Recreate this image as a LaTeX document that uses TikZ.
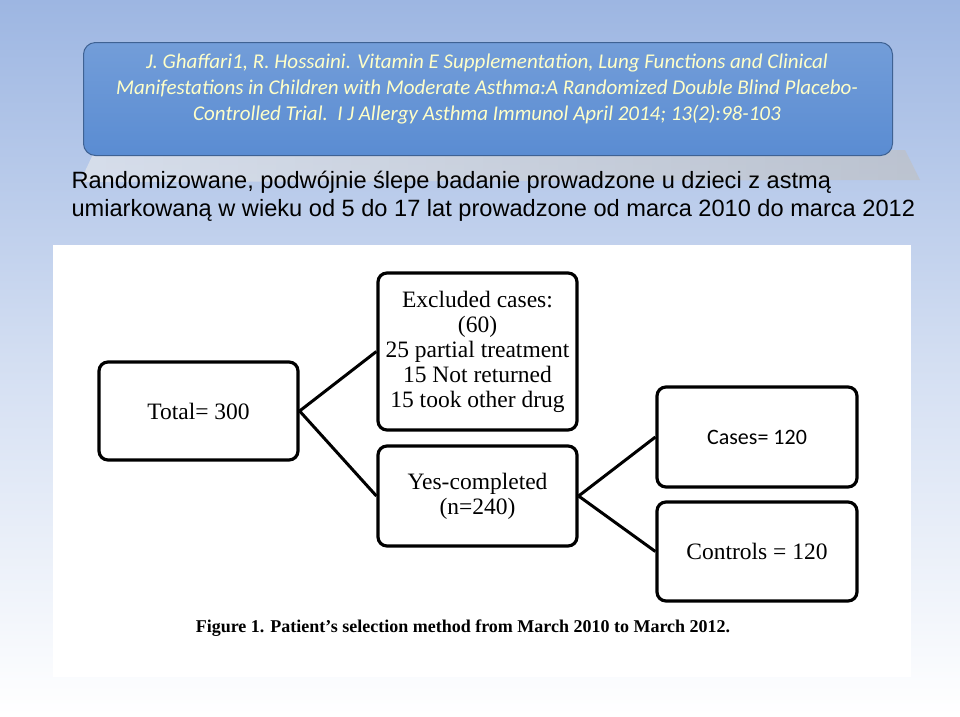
\documentclass[tikz,border=0pt]{standalone}
\usepackage{fontspec}
\setmainfont{Liberation Serif}
\newfontfamily\calib{Carlito}
\newfontfamily\arialf{Liberation Sans}
\usetikzlibrary{shadings}
\definecolor{bgtop}{HTML}{9DB6E2}
\definecolor{titlefill}{HTML}{5A8CD2}
\definecolor{titletext}{HTML}{FFFFC8}
\tikzset{
  fbox/.style={draw=black, line width=3.2pt, rounded corners=9pt, fill=white},
  conn/.style={draw=black, line width=3pt},
  btxt/.style={font=\fontsize{23.5}{25}\selectfont, align=center},
}
\begin{document}
\begin{tikzpicture}[x=1pt,y=-1pt]
\useasboundingbox (0,0) rectangle (960,716);
\shade[top color=bgtop, bottom color=white, middle color=bgtop!45] (0,0) rectangle (960,716);
% title shadow
\shade[left color=gray!15, right color=gray!50, opacity=0.6] (95,150) -- (905,150) -- (920,180) -- (80,182) -- cycle;
% title box
\node[draw=titlefill!70!black, line width=1pt, rounded corners=12pt, top color=titlefill!85!white, bottom color=titlefill, minimum width=809pt, minimum height=113pt, anchor=north west, inner sep=0pt] (title) at (83,42) {};
\node[text=titletext, font=\calib\itshape\fontsize{21}{26}\selectfont, align=center] (ttext) at (487,89) {J. Ghaffari1, R. Hossaini. Vitamin E Supplementation, Lung Functions and Clinical\\Manifestations in Children with Moderate Asthma:A Randomized Double Blind Placebo-\\Controlled Trial.\ \ I J Allergy Asthma Immunol April 2014; 13(2):98-103};
\node[font=\arialf\fontsize{23.6}{28}\selectfont, align=left, anchor=west] (pol) at (68,196) {Randomizowane, podwójnie ślepe badanie prowadzone u dzieci z astmą\\umiarkowaną w wieku od 5 do 17 lat prowadzone od marca 2010 do marca 2012};
% figure
\fill[white] (53,245) rectangle (911,677);
\node[fbox, minimum width=199pt, minimum height=98pt, btxt] (total) at (198.5,411) {Total= 300};
\node[fbox, minimum width=199pt, minimum height=157pt, btxt, inner sep=1pt] (excl) at (477.5,351.5) {Excluded cases:\\(60)\\25 partial treatment\\15 Not returned\\15 took other drug};
\node[fbox, minimum width=199pt, minimum height=100pt, btxt] (yes) at (477.5,496) {Yes-completed\\(n=240)};
\node[fbox, minimum width=200pt, minimum height=100pt, font=\calib\fontsize{22}{24}\selectfont] (cases) at (757,437) {Cases= 120};
\node[fbox, minimum width=200pt, minimum height=99pt, btxt] (ctrl) at (757,551.5) {Controls = 120};
\draw[conn] (total.east) -- (excl.west);
\draw[conn] (total.east) -- (yes.west);
\draw[conn] (yes.east) -- (cases.west);
\draw[conn] (yes.east) -- (ctrl.west);
\node[font=\bfseries\fontsize{18}{20}\selectfont] (cap) at (463,628) {Figure 1. Patient's selection method from March 2010 to March 2012.};
\end{tikzpicture}
\end{document}
